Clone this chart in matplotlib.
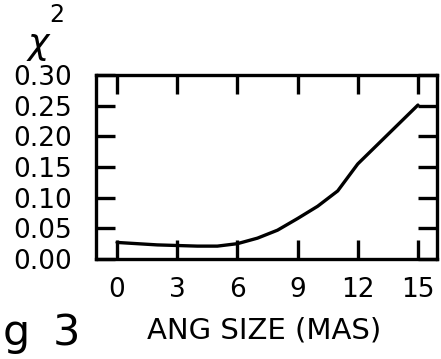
import matplotlib
matplotlib.use("Agg")
import matplotlib.pyplot as plt

ang_size = [0, 1, 2, 3, 4, 5, 6, 7, 8, 9, 10, 11, 12, 13, 14, 15]
chi2 = [0.027, 0.025, 0.023, 0.022, 0.021, 0.021, 0.025, 0.034, 0.047, 0.066, 0.086, 0.111, 0.155, 0.187, 0.219, 0.251]
xticks = [0, 3, 6, 9, 12, 15]
yticks = [0.00, 0.05, 0.10, 0.15, 0.20, 0.25, 0.30]

plt.rcParams['font.family'] = ['DejaVu Sans']
plt.rcParams['mathtext.fontset'] = 'dejavusans'

fig = plt.figure(figsize=(4.41, 3.59), dpi=100)
W, H = 441, 359
ax = fig.add_axes([96 / W, 1 - 259 / H, (437 - 96) / W, (259 - 75) / H])
ax.plot(ang_size, chi2, color='black', lw=2.4, solid_capstyle='round')
ax.set_xlim(-1.05, 15.95)
ax.set_ylim(0, 0.30)
ax.set_xticks(xticks)
ax.set_xticklabels([str(t) for t in xticks])
ax.set_yticks(yticks)
ax.set_yticklabels([f"{t:.2f}" for t in yticks])
for s in ax.spines.values():
    s.set_linewidth(2.4)
ax.tick_params(direction='in', length=14, width=2.4, top=True, right=True,
               labelsize=19)
ax.tick_params(axis='x', pad=13)
ax.tick_params(axis='y', pad=17)

fig.text(39 / W, 1 - 46 / H, r"$\chi$", fontsize=26, ha='center', va='center')
fig.text(57 / W, 1 - 15 / H, "2", fontsize=17, ha='center', va='center')
fig.text(3 / W, 1 - 345 / H, "g", fontsize=31, ha='left', va='baseline')
fig.text(66 / W, 1 - 345 / H, "3", fontsize=31, ha='center', va='baseline')
fig.text(264 / W, 1 - 331 / H, "ANG SIZE (MAS)", fontsize=21, ha='center', va='center')

fig.savefig("out.png", dpi=100)
